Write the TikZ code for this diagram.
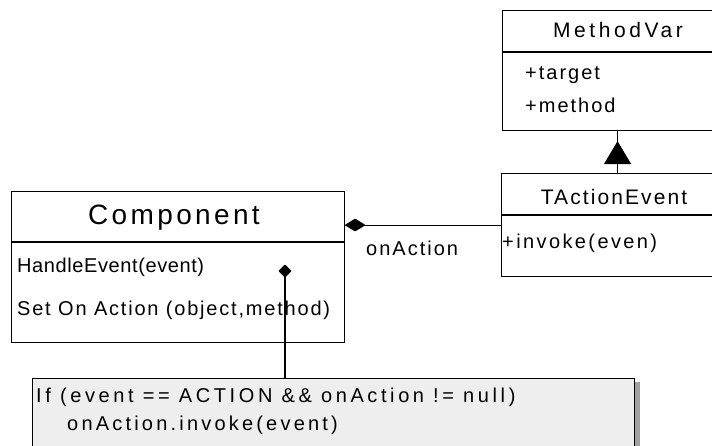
\documentclass[tikz,border=0pt]{standalone}
\usepackage{fontspec}
\usetikzlibrary{arrows.meta,calc}
\newfontfamily\umlfont[LetterSpace=10]{Liberation Sans}
\newfontfamily\umlbig[LetterSpace=12]{Liberation Sans}
\definecolor{notefill}{HTML}{EEEEEE}
\definecolor{shadowgray}{HTML}{A0A0A0}
\tikzset{
  umlbox/.style={draw=black, line width=1.1pt, fill=white, rectangle, inner sep=0pt, anchor=north west},
  notebox/.style={draw=black, line width=1.1pt, fill=notefill, rectangle, inner sep=0pt, anchor=north west},
  txt/.style={inner sep=0pt, font=\umlfont\fontsize{20}{24}\selectfont},
  sp/.style={font=\umlfont\fontsize{20}{24}\selectfont\addfontfeature{LetterSpace=#1}},
  ctxt/.style={inner sep=0pt, font=\umlfont\fontsize{21}{25}\selectfont},
  bigtxt/.style={inner sep=0pt, font=\umlbig\fontsize{28}{32}\selectfont},
  conn/.style={draw=black, line width=1.1pt},
  dmd/.style={fill=black, draw=black, line width=1.6pt, line join=round}
}
\begin{document}
\begin{tikzpicture}[x=1pt,y=-1pt]
\useasboundingbox (0,0) rectangle (712,445);
\clip (0,0) rectangle (712,445);
\fill[white] (0,0) rectangle (712,445);

% Component class
\node[umlbox, minimum width=333pt, minimum height=151pt] (comp) at (11,191) {};
\draw[conn] (11,242) -- (344,242);
\node[bigtxt] (compname) at (174,218) {Component};
\node[txt, sp=3, anchor=west] (m1) at (17,267) {HandleEvent(event)};
\node[txt, sp=9, anchor=west] (m2) at (17,310) {Set On Action (object,method)};

% MethodVar class
\node[umlbox, minimum width=230pt, minimum height=120pt] (mv) at (502,10) {};
\draw[conn] (502,52) -- (732,52);
\node[ctxt, font=\umlfont\fontsize{21}{25}\selectfont\addfontfeature{LetterSpace=17}] (mvname) at (618,30) {MethodVar};
\node[txt, anchor=west] (a1) at (525,75) {+target};
\node[txt, anchor=west] (a2) at (525,105) {+method};

% TActionEvent class
\node[umlbox, minimum width=232pt, minimum height=103pt] (te) at (501,173) {};
\draw[conn] (501,215) -- (733,215);
\node[ctxt] (tename) at (614,197) {TActionEvent};
\node[txt, sp=12, anchor=west] (op1) at (502,243) {+invoke(even)};

% Note
\fill[shadowgray] (634,382) rectangle (640,450);
\node[notebox, minimum width=602pt, minimum height=80pt] (note) at (32,378) {};
\node[txt, sp=18, anchor=west] (n1) at (36,397) {If (event == ACTION \&\& onAction != null)};
\node[txt, sp=16, anchor=west] (n2) at (67,425) {onAction.invoke(event)};

% Association with composition diamond
\coordinate (ae) at (comp.east |- te.west);
\draw[conn] (ae) -- (te.west);
\fill[dmd] ($(ae)+(1,0)$) -- ++(9,-5.5) -- ++(9,5.5) -- ++(-9,5.5) -- cycle;
\node[txt, anchor=west] (lbl) at (366,248) {onAction};

% Generalization
\draw[conn] (te.north) -- (mv.south);
\draw[conn, -{Triangle[length=23pt,width=27pt]}, shorten >=10pt] (te.north) -- (mv.south);

% Note anchor
\coordinate (hv) at (285,271);
\draw[conn] (hv) -- (hv |- note.north);
\fill[dmd] ($(hv)+(0,-5.5)$) -- ++(5.5,5.5) -- ++(-5.5,5.5) -- ++(-5.5,-5.5) -- cycle;
\end{tikzpicture}
\end{document}
